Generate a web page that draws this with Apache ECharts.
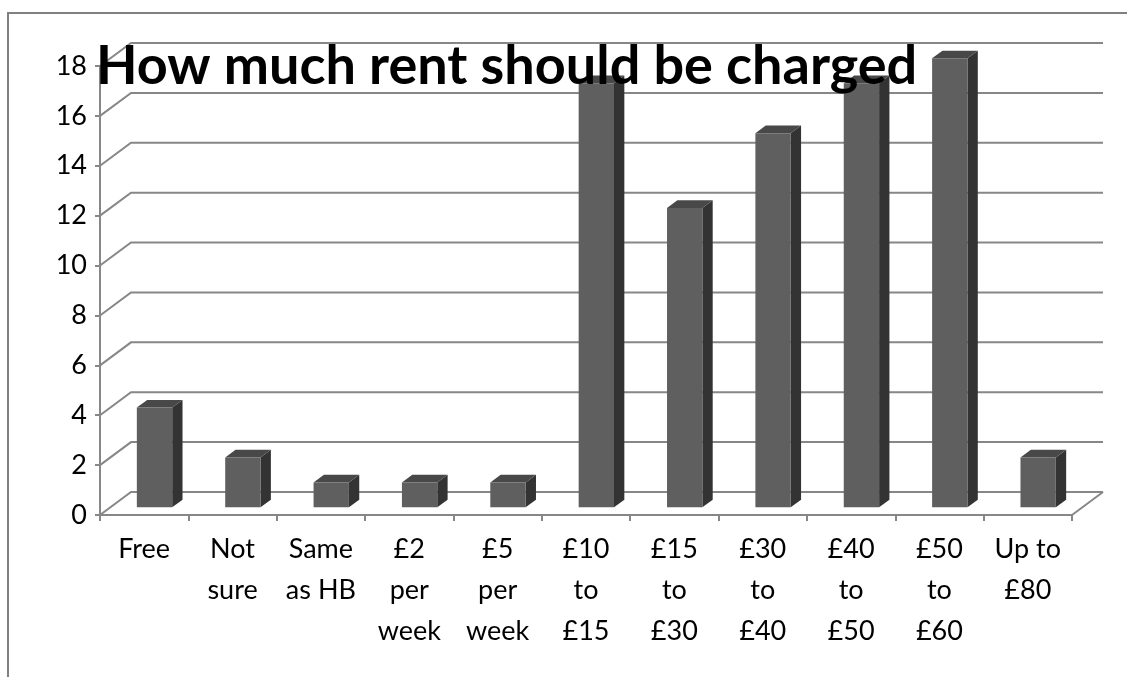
<!DOCTYPE html>
<html>
<head>
<meta charset="utf-8">
<script src="https://cdn.jsdelivr.net/npm/echarts@6/dist/echarts.min.js"></script>
<style>
html,body{margin:0;padding:0;background:#fff;}
#chart{width:1127px;height:677px;}
</style>
</head>
<body>
<div id="chart"></div>
<script>
// ---- data ----
const categories = ['Free', 'Not\nsure', 'Same\nas HB', '£2\nper\nweek', '£5\nper\nweek', '£10\nto\n£15', '£15\nto\n£30', '£30\nto\n£40', '£40\nto\n£50', '£50\nto\n£60', 'Up to\n£80'];
const values = [4, 2, 1, 1, 1, 17, 12, 15, 17, 18, 2];
const yTicks = [0, 2, 4, 6, 8, 10, 12, 14, 16, 18];
const titleText = 'How much rent should be charged';

// ---- style constants ----
const DX = 31, DY = -23;          // depth offset of back wall
const GRID = '#878787';
const FONT = 'Lato';

const chart = echarts.init(document.getElementById('chart'), null, {renderer: 'canvas'});

// fit title width to reference (~820px)
const ctx = document.createElement('canvas').getContext('2d');
ctx.font = 'bold 100px ' + FONT;
const titleSize = Math.round(820 / ctx.measureText(titleText).width * 100);

function gridRender(params, api) {
  const v = api.value(0);
  const bw = api.size([1, 0])[0];
  const p0 = api.coord([0, v]);
  const p1 = api.coord([categories.length - 1, v]);
  const xl = p0[0] - bw / 2, xr = p1[0] + bw / 2, y = p0[1];
  const children = [{
    type: 'polyline',
    shape: {points: [[xl, y], [xl + DX, y + DY], [xr + DX, y + DY]]},
    style: {stroke: GRID, lineWidth: 2, fill: null}
  }];
  if (v === 0) {
    children.push({
      type: 'line',
      shape: {x1: xr, y1: y, x2: xr + DX, y2: y + DY},
      style: {stroke: GRID, lineWidth: 2}
    });
  }
  return {type: 'group', children: children};
}

function barRender(params, api) {
  const i = api.value(0), v = api.value(1);
  const bw = api.size([1, 0])[0];
  const w = bw / 2.5;
  const c = api.coord([i, 0]);
  const t = api.coord([i, v]);
  const fx = DX / 3, fy = DY / 3;   // front face sits at 1/3 depth
  const ddx = DX / 3, ddy = DY / 3; // bar depth
  const x0 = c[0] + fx - w / 2, x1 = x0 + w;
  const yb = c[1] + fy, yt = t[1] + fy;
  return {
    type: 'group',
    children: [
      {type: 'polygon', shape: {points: [[x1, yt], [x1 + ddx, yt + ddy], [x1 + ddx, yb + ddy], [x1, yb]]}, style: {fill: '#333333'}},
      {type: 'polygon', shape: {points: [[x0, yt], [x1, yt], [x1 + ddx, yt + ddy], [x0 + ddx, yt + ddy]]}, style: {fill: '#484848'}},
      {type: 'rect', shape: {x: x0, y: yt, width: w, height: yb - yt}, style: {fill: '#5f5f5f'}}
    ]
  };
}

chart.setOption({
  animation: false,
  backgroundColor: '#ffffff',
  grid: {left: 100, top: 66, width: 972, height: 449, containLabel: false},
  xAxis: {
    type: 'category',
    data: categories,
    boundaryGap: true,
    axisLine: {show: true, lineStyle: {color: GRID, width: 2}},
    axisTick: {show: true, length: 6, lineStyle: {color: GRID, width: 2}},
    axisLabel: {color: '#000', fontFamily: FONT, fontSize: 27, lineHeight: 41, margin: 14, interval: 0}
  },
  yAxis: {
    type: 'value',
    min: 0, max: 18, interval: 2,
    axisLine: {show: true, lineStyle: {color: GRID, width: 2}},
    axisTick: {show: true, length: 5, lineStyle: {color: GRID, width: 2}},
    splitLine: {show: false},
    axisLabel: {color: '#000', fontFamily: FONT, fontSize: 27, margin: 13}
  },
  graphic: [
    {type: 'rect', shape: {x: 8, y: 13, width: 1300, height: 800}, style: {fill: null, stroke: '#808080', lineWidth: 2}, z: 0},
    {type: 'text', left: 96, top: 40, z: 100,
     style: {text: titleText, font: 'bold ' + titleSize + 'px ' + FONT, fill: '#000'}}
  ],
  series: [
    {type: 'custom', data: yTicks.map(v => [v]), renderItem: gridRender, encode: {y: 0}, z: 1, silent: true},
    {type: 'custom', data: values.map((v, i) => [i, v]), renderItem: barRender, encode: {x: 0, y: 1}, z: 2, silent: true}
  ]
});
</script>
</body>
</html>
